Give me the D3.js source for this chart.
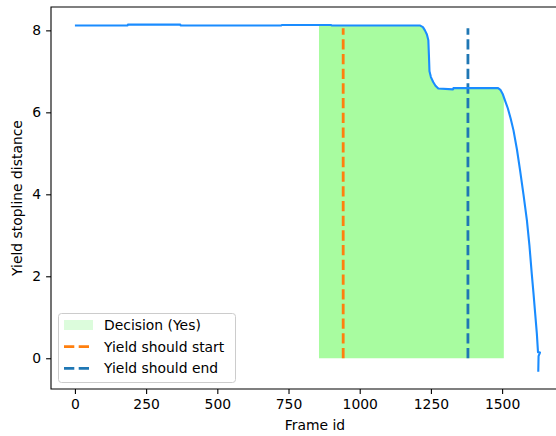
<!DOCTYPE html>
<html>
<head>
<meta charset="utf-8">
<script src="https://cdn.jsdelivr.net/npm/d3@7"></script>
<style>
  body { margin: 0; background: #fff; }
  text { font-family: "DejaVu Sans", sans-serif; }
</style>
</head>
<body>
<svg id="chart" width="556" height="436"></svg>
<script>
// data
let frames    = [0, 185, 186, 370, 371, 725, 726, 900, 901, 1211, 1222, 1229, 1236, 1241, 1243, 1245, 1250, 1258, 1266, 1276, 1328, 1329, 1486, 1494, 1502, 1510, 1520, 1530, 1540, 1552, 1563, 1575, 1587, 1596, 1604, 1610, 1616, 1622, 1626, 1633, 1628, 1627]
let distances = [8.12, 8.12, 8.14, 8.14, 8.12, 8.12, 8.13, 8.13, 8.12, 8.12, 8.08, 8.0, 7.9, 7.76, 7.4, 7.0, 6.86, 6.74, 6.65, 6.58, 6.56, 6.59, 6.59, 6.55, 6.45, 6.29, 6.1, 5.85, 5.56, 5.1, 4.59, 4.0, 3.37, 2.75, 2.07, 1.6, 1.1, 0.6, 0.15, 0.14, 0.05, -0.33]

let decisionYes = [857, 1506]     // frame range where decision == yes
let yieldStart = 942
let yieldEnd = 1380
let vlineTop = 8.05

let xTicks = [0, 250, 500, 750, 1000, 1250, 1500]
let yTicks = [0, 2, 4, 6, 8]

main()

//------------------------------------------------------------------------------
//Main
//------------------------------------------------------------------------------
function main()
{
    var svg = d3.select("#chart")
    var fs = 13.9

    var x = d3.scaleLinear().domain([-84, 1770]).range([51, 579])
    var y = d3.scaleLinear().domain([-0.75, 8.57]).range([389, 7])

    var pts = frames.map((f, i) => ({x: f, y: distances[i]}))

    // green area under the line, between the decision frames
    var interp = function(f) {
        for (let i = 0; i < frames.length - 1; i++) {
            if (frames[i] <= f && frames[i + 1] >= f) {
                let t = (f - frames[i]) / ((frames[i + 1] - frames[i]) || 1)
                return distances[i] + t * (distances[i + 1] - distances[i])
            }
        }
        return 0
    }
    var areaPts = [{x: decisionYes[0], y: interp(decisionYes[0])}]
    for (let i = 0; i < frames.length; i++) {
        if (frames[i] > decisionYes[0] && frames[i] < decisionYes[1] && (i == 0 || frames[i] > frames[i - 1]))
            areaPts.push(pts[i])
    }
    areaPts.push({x: decisionYes[1], y: interp(decisionYes[1])})

    var area = d3.area().x(d => x(d.x)).y0(y(0)).y1(d => y(d.y))
    svg.append("path")
        .datum(areaPts)
        .attr("fill", "#a8fca0")
        .attr("d", area)

    // dashed yield lines
    var vl = [{f: yieldStart, c: "#ff7f0e"}, {f: yieldEnd, c: "#1f77b4"}]
    svg.selectAll(".vline")
        .data(vl)
        .enter()
        .append("line")
        .attr("x1", d => x(d.f)).attr("x2", d => x(d.f))
        .attr("y1", y(0)).attr("y2", y(vlineTop))
        .attr("stroke", d => d.c)
        .attr("stroke-width", 2.8)
        .attr("stroke-dasharray", "10.3,4.4")

    // main line
    var line = d3.line().x(d => x(d.x)).y(d => y(d.y))
    svg.append("path")
        .datum(pts)
        .attr("fill", "none")
        .attr("stroke", "#1a8cff")
        .attr("stroke-width", 2.1)
        .attr("stroke-linejoin", "round")
        .attr("d", line)

    // axes
    var gx = svg.append("g").attr("transform", "translate(0,389)")
        .call(d3.axisBottom(x).tickValues(xTicks).tickSize(4.9).tickPadding(4.9).tickFormat(d3.format("d")))
    var gy = svg.append("g").attr("transform", "translate(51,0)")
        .call(d3.axisLeft(y).tickValues(yTicks).tickSize(4.9).tickPadding(4.9).tickFormat(d3.format("d")))
    ;[gx, gy].forEach(g => {
        g.select(".domain").remove()
        g.selectAll("line").attr("stroke", "#000").attr("stroke-width", 1.1)
        g.selectAll("text").attr("font-size", fs).attr("fill", "#000").attr("font-family", "DejaVu Sans")
    })

    // spines (right spine is outside the picture)
    svg.append("path")
        .attr("d", "M579,7H51V389H579")
        .attr("fill", "none")
        .attr("stroke", "#000")
        .attr("stroke-width", 1.1)

    svg.append("text")
        .attr("x", (51 + 579) / 2).attr("y", 430)
        .attr("text-anchor", "middle")
        .attr("font-size", fs)
        .text("Frame id")
    svg.append("text")
        .attr("transform", "translate(22,198) rotate(-90)")
        .attr("text-anchor", "middle")
        .attr("font-size", fs)
        .text("Yield stopline distance")

    // legend
    var lg = svg.append("g").attr("transform", "translate(58,313)")
    lg.append("rect")
        .attr("x", 0.5).attr("y", 0.5)
        .attr("width", 177).attr("height", 69)
        .attr("rx", 3)
        .attr("fill", "#fff").attr("fill-opacity", 0.8)
        .attr("stroke", "#cccccc")
    var items = [
        {label: "Decision (Yes)", type: "patch", c: "#dcfcdc"},
        {label: "Yield should start", type: "dash", c: "#ff7f0e"},
        {label: "Yield should end", type: "dash", c: "#1f77b4"}
    ]
    items.forEach((it, i) => {
        var cy = 12 + i * 21.7
        if (it.type == "patch") {
            lg.append("rect").attr("x", 6).attr("y", cy - 5).attr("width", 29).attr("height", 10).attr("fill", it.c)
        } else {
            lg.append("line").attr("x1", 6).attr("x2", 35).attr("y1", cy).attr("y2", cy)
                .attr("stroke", it.c).attr("stroke-width", 2.8).attr("stroke-dasharray", "10.3,4.4")
        }
        lg.append("text").attr("x", 46).attr("y", cy).attr("dy", "0.35em")
            .attr("font-size", fs).text(it.label)
    })
}
</script>
</body>
</html>
